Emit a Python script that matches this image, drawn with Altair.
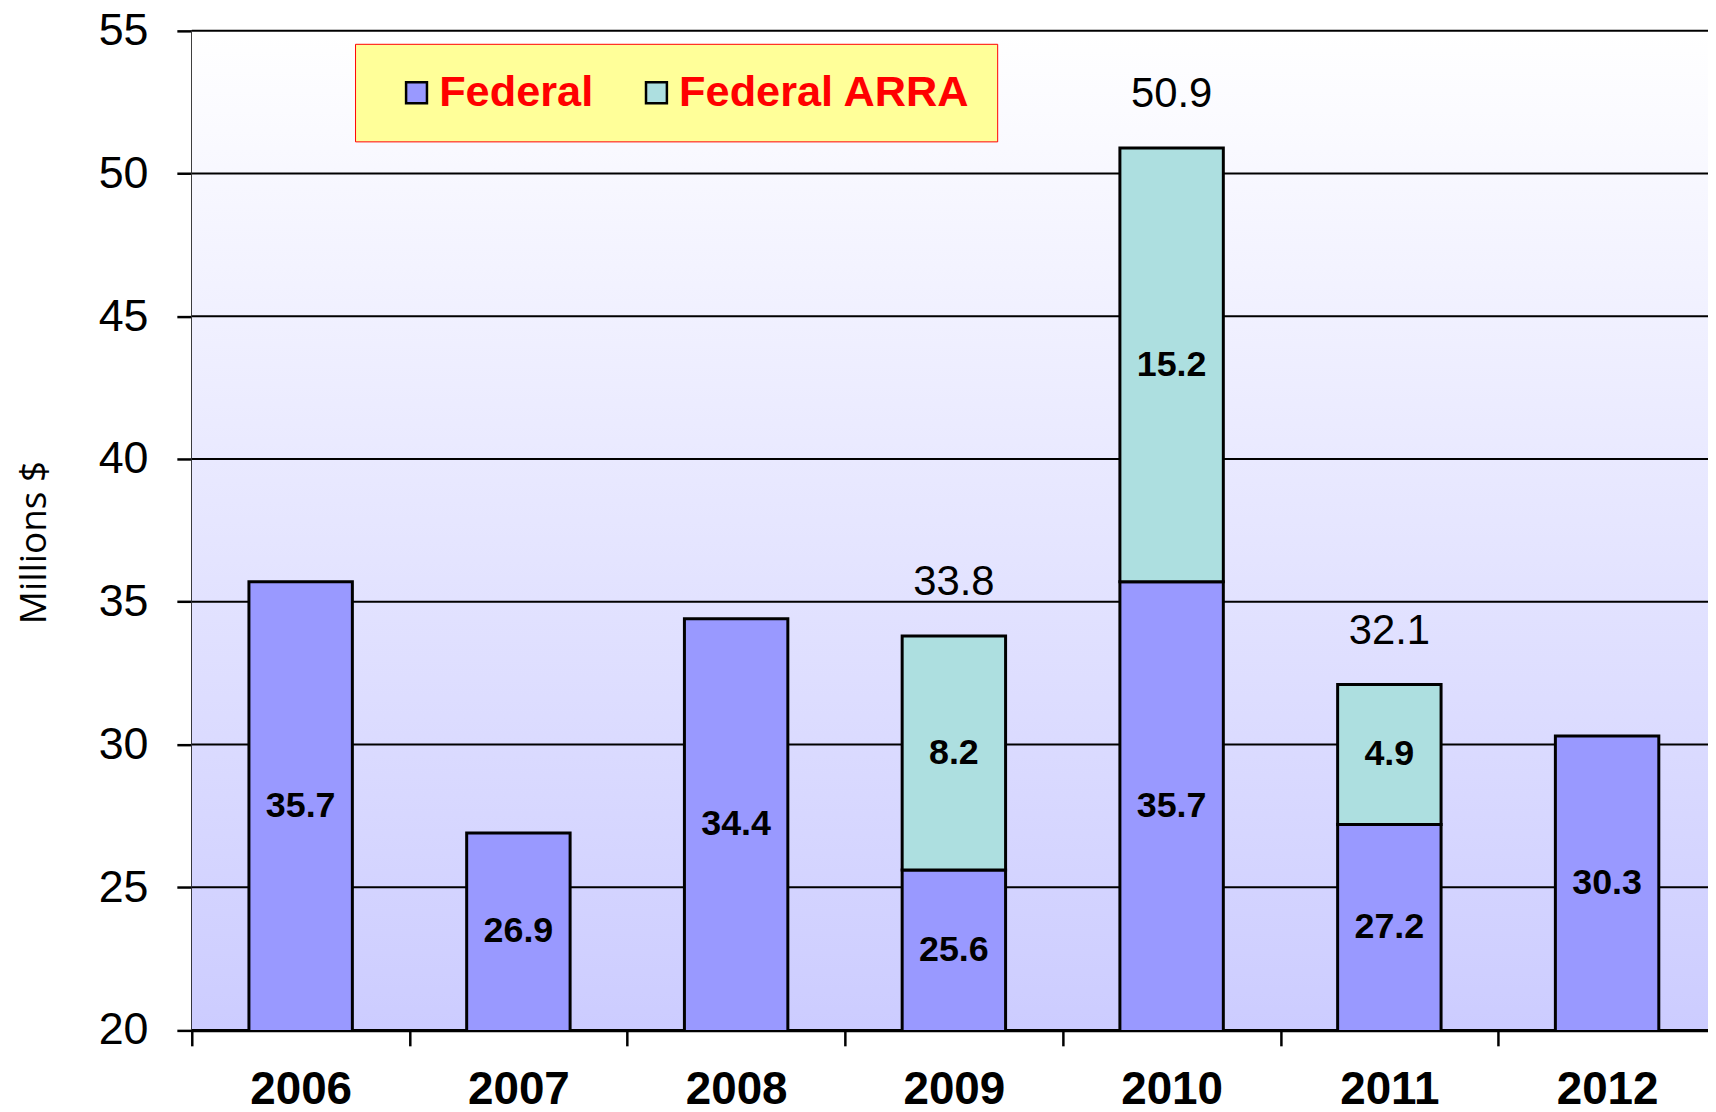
import altair as alt
import pandas as pd

# ---- data ----
YEARS = ["2006", "2007", "2008", "2009", "2010", "2011", "2012"]
FEDERAL = [35.7, 26.9, 34.4, 25.6, 35.7, 27.2, 30.3]
ARRA = [0, 0, 0, 8.2, 15.2, 4.9, 0]
TOTAL_YEARS = ["2009", "2010", "2011"]
TOTALS = [33.8, 50.9, 32.1]
SERIES = ["Federal", "Federal ARRA"]
COLORS = ["#9999FF", "#ADDFE0"]
Y_TICKS = [20, 25, 30, 35, 40, 45, 50, 55]
Y_MIN, Y_MAX = 20, 55

FONT = "Liberation Sans"

rows = []
seg = []
for i, yr in enumerate(YEARS):
    base = 0.0
    for s, vals in enumerate([FEDERAL, ARRA]):
        v = vals[i]
        if v > 0:
            rows.append({"year": yr, "series": SERIES[s], "order": s, "value": v})
            lo = max(base, Y_MIN)
            seg.append({"year": yr, "mid": (lo + base + v) / 2, "label": v})
        base += v
bars_df = pd.DataFrame(rows)
seg_df = pd.DataFrame(seg)
tot_df = pd.DataFrame({"year": TOTAL_YEARS, "total": TOTALS})
grid_df = pd.DataFrame({"v": Y_TICKS})
bg_df = pd.DataFrame({"top": [Y_MAX], "bottom": [Y_MIN]})

W, H = 1531, 1003.5

xscale = alt.Scale(domain=YEARS, paddingInner=0, paddingOuter=0)
xaxis = alt.Axis(title=None, labelAngle=0, labelFont=FONT, labelFontSize=46,
                 labelFontWeight="bold", labelColor="black", labelPadding=22,
                 tickBand="extent", tickSize=16, tickWidth=2.5, tickColor="black",
                 domainColor="black", domainWidth=3.5, grid=False)
yscale = alt.Scale(domain=[Y_MIN, Y_MAX], nice=False, zero=False)
yaxis = alt.Axis(title="Millions $", values=Y_TICKS, grid=False, labelFont=FONT,
                 labelFontSize=45, labelColor="black", labelPadding=29,
                 tickSize=15, tickWidth=2.5, tickColor="black",
                 domainColor="black", domainWidth=2.5,
                 titleFont="Open Sans", titleFontSize=37, titleFontWeight="normal",
                 titleColor="black", titleAngle=270, titleX=-158, titleY=513.5,
                 titleAlign="center", titleBaseline="middle")

gradient = alt.LinearGradient(
    gradient="linear",
    stops=[alt.GradientStop(color="#FFFFFF", offset=0),
           alt.GradientStop(color="#CCCCFF", offset=1)],
    x1=0, x2=0, y1=0, y2=1)

bg = alt.Chart(bg_df).mark_rect(fill=gradient).encode(
    y=alt.Y("top:Q", scale=yscale, axis=yaxis),
    y2="bottom:Q",
)

grid = alt.Chart(grid_df).mark_rule(color="black", strokeWidth=2).encode(
    y=alt.Y("v:Q", scale=yscale, axis=yaxis),
)

bars = alt.Chart(bars_df).mark_bar(
    stroke="black", strokeWidth=3, clip=True,
    width=alt.RelativeBandSize(band=0.475),
).encode(
    x=alt.X("year:N", scale=xscale, axis=xaxis),
    y=alt.Y("value:Q", stack="zero", scale=yscale, axis=yaxis),
    color=alt.Color("series:N", scale=alt.Scale(domain=SERIES, range=COLORS),
                    legend=alt.Legend(
                        title=None, orient="none", legendX=164, legendY=13,
                        direction="horizontal", fillColor="#FFFF99",
                        strokeColor="#FF0000", padding=27, symbolOffset=13,
                        symbolType="square", symbolSize=440,
                        symbolStrokeColor="black", symbolStrokeWidth=2.5,
                        labelFont=FONT, labelFontSize=43.5, labelFontWeight="bold",
                        labelColor="#FF0000", labelOffset=1, labelLimit=600,
                        columnPadding=28)),
    order=alt.Order("order:Q"),
)

seg_text = alt.Chart(seg_df).mark_text(
    font=FONT, fontSize=36, fontWeight="bold", color="black", baseline="middle"
).encode(
    x=alt.X("year:N", scale=xscale, axis=xaxis),
    y=alt.Y("mid:Q", scale=yscale, axis=yaxis),
    text=alt.Text("label:Q", format=".1f"),
)

tot_text = alt.Chart(tot_df).mark_text(
    font=FONT, fontSize=42, color="black", baseline="middle", dy=-54
).encode(
    x=alt.X("year:N", scale=xscale, axis=xaxis),
    y=alt.Y("total:Q", scale=yscale, axis=yaxis),
    text=alt.Text("total:Q", format=".1f"),
)

chart = alt.layer(bg, grid, bars, seg_text, tot_text).properties(
    width=W, height=H,
    title=alt.TitleParams("Federal Aid", font=FONT, fontSize=115, fontWeight="normal",
                          color="#000080", anchor="middle", frame="group",
                          baseline="alphabetic", offset=0, dy=6),
    autosize=alt.AutoSizeParams(type="none"),
    padding={"left": 184.6, "top": 20.5, "right": -8, "bottom": 80},
).configure_view(stroke=None).configure(background="white")

chart.save("out.html", embed_options={"renderer": "svg", "actions": False})
